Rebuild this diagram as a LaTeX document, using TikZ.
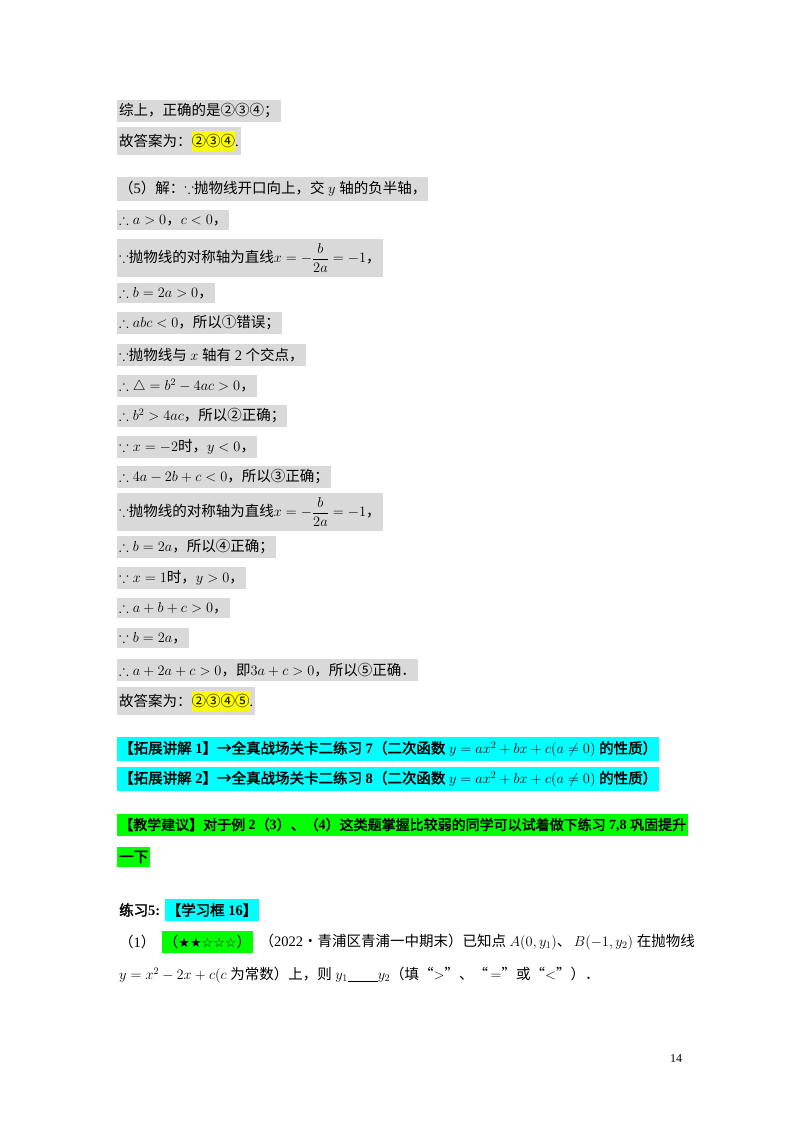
\documentclass[tikz,border=0pt]{standalone}
\usepackage{amsmath,amssymb}
\usepackage{fontspec}
\setmainfont{Liberation Serif}
\newfontfamily\cjk{Noto Sans CJK SC}
\newfontfamily\cjkb[FakeBold=2]{Noto Sans CJK SC}
\newfontfamily\djv{DejaVu Sans}
\newcommand\zh[1]{{\cjk #1}}
\newcommand\zb[1]{{\cjkb #1}}
\definecolor{gbg}{RGB}{217,217,217}
\definecolor{cya}{RGB}{0,255,255}
\definecolor{grn}{RGB}{0,255,0}
\definecolor{yel}{RGB}{255,255,0}
\begin{document}
\begin{tikzpicture}[x=1pt,y=-1pt,
  row/.style={anchor=west,fill=gbg,inner xsep=2pt,inner ysep=4pt,font=\fontsize{14.5}{17}\selectfont},
  cy/.style={row,fill=cya},
  gr/.style={row,fill=grn},
  pl/.style={anchor=west,inner xsep=2pt,inner ysep=4pt,font=\fontsize{14.5}{17}\selectfont}]
\useasboundingbox[fill=white] (0,0) rectangle (800,1132);
\node[row] (r1) at (117,111) {\zh{综上，正确的是②③④；}};
\node[row] (r2) at (117,141) {\zh{故答案为：}\colorbox{yel}{\kern-3pt\zh{②③④}\kern-3pt}.};
\node[row] (r3) at (117,189) {\zh{（}5\zh{）解：}$\because$\zh{抛物线开口向上，交} $y$ \zh{轴的负半轴，}};
\node[row] (r4) at (117,220) {$\therefore a>0$\zh{，}$c<0$\zh{，}};
\node[row] (r5) at (117,258) {$\because$\zh{抛物线的对称轴为直线}$x=-\dfrac{b}{2a}=-1$\zh{，}};
\node[row] (r6) at (117,293) {$\therefore b=2a>0$\zh{，}};
\node[row] (r7) at (117,323) {$\therefore abc<0$\zh{，所以①错误；}};
\node[row] (r8) at (117,355) {$\because$\zh{抛物线与} $x$ \zh{轴有} 2 \zh{个交点，}};
\node[row] (r9) at (117,386) {$\therefore\triangle=b^2-4ac>0$\zh{，}};
\node[row] (r10) at (117,416) {$\therefore b^2>4ac$\zh{，所以②正确；}};
\node[row] (r11) at (117,447) {$\because x=-2$\zh{时，}$y<0$\zh{，}};
\node[row] (r12) at (117,477) {$\therefore 4a-2b+c<0$\zh{，所以③正确；}};
\node[row] (r13) at (117,512) {$\because$\zh{抛物线的对称轴为直线}$x=-\dfrac{b}{2a}=-1$\zh{，}};
\node[row] (r14) at (117,547) {$\therefore b=2a$\zh{，所以④正确；}};
\node[row] (r15) at (117,578) {$\because x=1$\zh{时，}$y>0$\zh{，}};
\node[row] (r16) at (117,608) {$\therefore a+b+c>0$\zh{，}};
\node[row] (r17) at (117,638) {$\because b=2a$\zh{，}};
\node[row] (r18) at (117,670) {$\therefore a+2a+c>0$\zh{，即}$3a+c>0$\zh{，所以⑤正确．}};
\node[row] (r19) at (117,701) {\zh{故答案为：}\colorbox{yel}{\kern-3pt\zh{②③④⑤}\kern-3pt}.};
\node[cy] (c1) at (117,749) {\zb{【拓展讲解} \textbf{1}\zb{】→全真战场关卡二练习} \textbf{7}\zb{（二次函数} $y=ax^2+bx+c(a\neq0)$ \zb{的性质）}};
\node[cy] (c2) at (117,779) {\zb{【拓展讲解} \textbf{2}\zb{】→全真战场关卡二练习} \textbf{8}\zb{（二次函数} $y=ax^2+bx+c(a\neq0)$ \zb{的性质）}};
\node[gr,font=\fontsize{14}{17}\selectfont] (g1) at (117,825) {\zb{【教学建议】对于例} \textbf{2}\zb{（}\textbf{3}\zb{）、（}\textbf{4}\zb{）这类题掌握比较弱的同学可以试着做下练习} \textbf{7,8} \zb{巩固提升}};
\node[gr] (g2) at (117,857) {\zb{一下}};
\node[pl] (p1) at (117,910) {\zb{练习}\textbf{5:}};
\node[cy] (p1b) at (p1.east) [anchor=west,xshift=2pt] {\zb{【学习框} \textbf{16}\zb{】}};
\node[pl] (q1) at (117,942) {\zh{（}1\zh{）}};
\node[gr] (q1b) at (q1.east) [anchor=west,xshift=4pt] {\zh{（}{\djv\fontsize{13}{15}\selectfont ★★☆☆☆}\zh{）}};
\node[pl] (q1c) at (q1b.east) [anchor=west,xshift=4pt] {\zh{（}2022\zh{•青浦区青浦一中期末）已知点} $A(0,y_1)$\zh{、}\,$B(-1,y_2)$ \zh{在抛物线}};
\node[pl] (q2) at (117,975) {$y=x^2-2x+c(c$ \zh{为常数）上，则} $y_1$\underline{\hspace{30pt}}$y_2$\zh{（填“}$>$\zh{”、“}\,$=$\zh{”或“}$<$\zh{”）．}};
\node[anchor=center,font=\fontsize{12}{14}\selectfont] (pg) at (676,1059) {14};
\end{tikzpicture}
\end{document}
